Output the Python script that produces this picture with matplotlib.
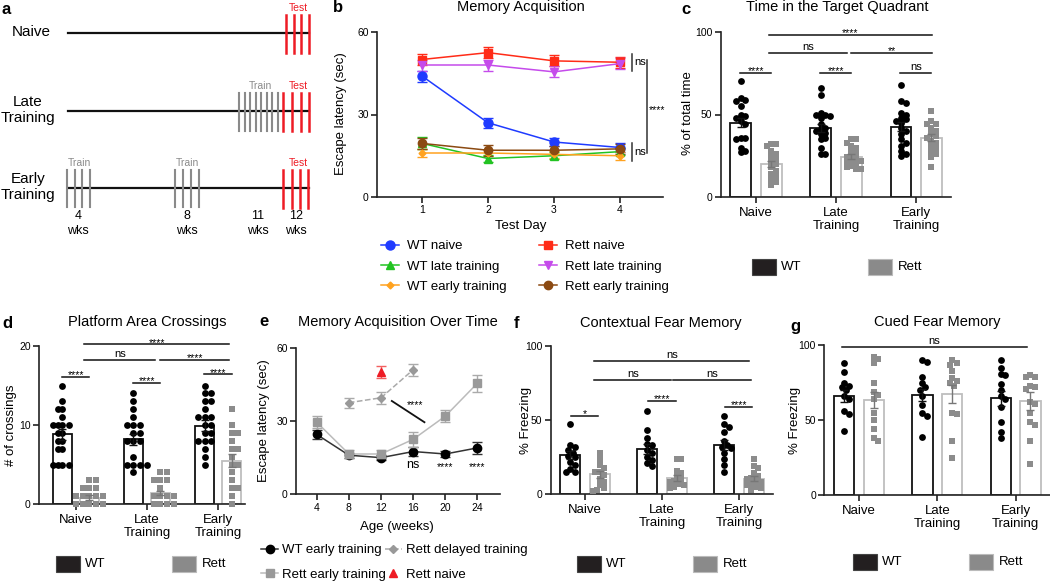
import numpy as np
import matplotlib
matplotlib.use('Agg')
import matplotlib.pyplot as plt
from matplotlib.patches import Rectangle
from matplotlib.lines import Line2D

W, H = 1050, 582
plt.rcParams['font.family'] = ['Liberation Sans', 'DejaVu Sans']

# ---------------- data ----------------
groups = ['Naive', 'Late\nTraining', 'Early\nTraining']

# b: memory acquisition (escape latency, sec) per test day
b_days = [1, 2, 3, 4]
b_names = ['WT naive', 'WT late training', 'WT early training',
           'Rett naive', 'Rett late training', 'Rett early training']
b_means = [[44, 27, 20, 18],
           [19.5, 14, 15, 16.5],
           [16, 16, 15.5, 15],
           [50, 52.5, 49.5, 49],
           [48, 48, 45.5, 48.5],
           [19.5, 17, 17, 17.5]]
b_sems = [[2, 1.8, 1.5, 1.5],
          [2.2, 1.2, 1.2, 1.2],
          [1.5, 1.2, 1.2, 1.5],
          [2, 2, 2, 2],
          [2, 2, 2, 2],
          [2, 2, 1.5, 1.8]]

# c: time in target quadrant (% of total time)
c_wt = [[70, 60, 59, 58, 55, 50, 49, 48, 46, 44, 36, 36, 35, 30, 28, 27],
        [66, 62, 51, 50, 50, 49, 48, 44, 42, 41, 40, 39, 38, 36, 35, 30, 26, 26],
        [68, 58, 57, 51, 50, 48, 47, 46, 45, 42, 40, 38, 35, 33, 31, 28, 26, 25]]
c_rett = [[32, 32, 31, 28, 26, 24, 23, 21, 20, 18, 16, 14, 13, 11, 9, 7],
          [35, 35, 33, 31, 30, 28, 26, 25, 24, 23, 22, 22, 21, 20, 19, 18, 17, 17],
          [52, 46, 44, 44, 42, 40, 38, 37, 36, 34, 33, 31, 29, 28, 26, 24, 18]]
c_wt_mean, c_rett_mean = [45, 42, 42.5], [20, 24.5, 36]
c_wt_sem, c_rett_sem = [2.8, 2.5, 2.8], [2, 1.5, 2.2]
c_sig = [(0.16, 2.2, 98.4, '****'), (0.16, 1.14, 87.5, 'ns'), (1.19, 2.2, 87.5, '**'),
         (-0.2, 0.19, 75, '****'), (0.8, 1.19, 75, '****'), (1.8, 2.19, 75, 'ns')]

# d: platform area crossings
d_wt = [[15, 13, 12, 12, 11, 10, 10, 10, 10, 9, 9, 8, 8, 7, 7, 5, 5, 5, 5],
        [14, 13, 12, 11, 10, 10, 10, 9, 9, 8, 8, 8, 6, 5, 5, 5, 5, 4],
        [15, 14, 14, 13, 13, 12, 11, 11, 11, 10, 10, 9, 9, 8, 8, 8, 7, 6, 5]]
d_rett = [[3, 3, 2, 2, 2, 1, 1, 1, 1, 1, 0, 0, 0, 0, 0],
          [4, 4, 3, 3, 3, 2, 1, 1, 1, 1, 0, 0, 0, 0],
          [12, 10, 9, 9, 8, 7, 7, 6, 5, 5, 4, 3, 2, 2, 1, 0]]
d_wt_mean, d_rett_mean = [8.8, 8.2, 9.9], [0.8, 1.4, 5.5]
d_wt_sem, d_rett_sem = [0.7, 0.7, 0.7], [0.3, 0.3, 0.8]
d_sig = [(0.12, 2.16, 20.2, '****'), (0.12, 1.12, 18.2, 'ns'), (1.18, 2.16, 18.2, '****'),
         (-0.2, 0.19, 16.1, '****'), (0.8, 1.19, 15.3, '****'), (1.8, 2.19, 16.4, '****')]

# e: memory acquisition over time
e_weeks = [4, 8, 12, 16, 20, 24]
e_wt = [24.5, 16, 15, 17.5, 16.5, 19]
e_wt_err = [2, 1, 1, 2, 1.2, 2.5]
e_rett = [29.5, 16.5, 16.5, 22.5, 32, 45.5]
e_rett_err = [2.5, 1.5, 1.5, 3, 2.5, 3.5]
e_delay_weeks = [8, 12, 16]
e_delay = [37.5, 39.5, 51]
e_delay_err = [2, 2.5, 2.5]
e_naive_weeks = [12]
e_naive = [50]
e_naive_err = [2.5]
e_sig_weeks = [16, 20, 24]
e_sig_labels = ['ns', '****', '****']

# f: contextual fear memory (% freezing)
f_wt = [[47, 33, 32, 30, 28, 26, 25, 22, 20, 17, 15, 15],
        [56, 43, 38, 34, 33, 30, 28, 25, 23, 21, 19],
        [53, 47, 45, 42, 36, 33, 32, 31, 28, 24, 20, 15]]
f_rett = [[28, 24, 20, 18, 15, 15, 13, 10, 8, 6, 4, 3, 2],
          [24, 24, 16, 14, 12, 10, 9, 8, 7, 6, 5, 4],
          [24, 19, 18, 14, 12, 11, 10, 9, 8, 7, 6, 5, 4, 3]]
f_wt_mean, f_rett_mean = [26.5, 30.5, 33], [13.5, 11, 10.5]
f_wt_sem, f_rett_sem = [2.8, 3.2, 3.5], [2.5, 2, 1.8]
f_sig = [(0.12, 2.13, 89.7, 'ns'), (0.12, 1.12, 77, 'ns'), (1.14, 2.15, 77, 'ns'),
         (-0.18, 0.17, 52.9, '*'), (0.82, 1.18, 62.8, '****'), (1.82, 2.17, 59, '****')]

# g: cued fear memory (% freezing)
g_wt = [[88, 82, 75, 73, 72, 70, 66, 64, 56, 54, 43],
        [90, 89, 79, 75, 72, 70, 66, 60, 55, 53, 39],
        [90, 85, 81, 80, 74, 70, 66, 64, 59, 49, 42, 38]]
g_rett = [[92, 91, 88, 75, 69, 67, 64, 55, 50, 44, 38, 36],
          [90, 88, 87, 83, 78, 76, 75, 73, 55, 54, 36, 25],
          [80, 79, 79, 73, 72, 71, 62, 61, 55, 49, 47, 36, 21]]
g_wt_mean, g_rett_mean = [66, 67, 64.5], [63.5, 67.5, 62.5]
g_wt_sem, g_rett_sem = [4, 4, 5], [5.5, 6, 6]
g_sig = [(-0.22, 2.15, 98.9, 'ns')]

# ---------------- styles ----------------
RED = '#EE1C25'
TRAIN_GRAY = '#8A8A8A'
RETT_PT = '#8C8C8C'
RETT_EDGE = '#BEBEBE'
AXC = '#222222'

fig = plt.figure(figsize=(W / 100, H / 100), dpi=100)
canvas = fig.add_axes([0, 0, 1, 1])
canvas.set_xlim(0, W)
canvas.set_ylim(H, 0)
canvas.axis('off')


def px_axes(x0, y0, x1, y1):
    ax = fig.add_axes([x0 / W, 1 - y1 / H, (x1 - x0) / W, (y1 - y0) / H])
    ax.set_facecolor('none')
    for s in ['top', 'right']:
        ax.spines[s].set_visible(False)
    for s in ['left', 'bottom']:
        ax.spines[s].set_linewidth(1.2)
        ax.spines[s].set_color(AXC)
    ax.tick_params(width=1.2, length=4, color=AXC, labelsize=7.5, pad=2)
    return ax


def ctext(x, y, s, **kw):
    kw.setdefault('ha', 'center')
    kw.setdefault('va', 'center')
    canvas.text(x, y, s, **kw)


def swarm(ax, xc, vals, d=4.6):
    # spread points sideways so they do not sit on top of each other
    pts = ax.transData.transform(np.column_stack([np.full(len(vals), xc), vals]))
    placed = []
    for px, py in pts:
        for k in range(60):
            off = ((k + 1) // 2) * (1 if k % 2 else -1) * d * 0.5
            cand = px + off
            if all((cand - qx) ** 2 + (py - qy) ** 2 >= d * d for qx, qy in placed):
                break
        placed.append((cand, py))
    return ax.transData.inverted().transform(np.array(placed))[:, 0]


def bar_panel(ax, wt, rett, wt_mean, rett_mean, wt_sem, rett_sem, ymax, xlim, sig):
    ax.set_xlim(*xlim)
    ax.set_ylim(0, ymax)
    ax.set_yticks([0, ymax / 2, ymax])
    ax.set_yticklabels([f'{v:g}' for v in [0, ymax / 2, ymax]])
    ax.set_xticks(range(len(groups)))
    ax.set_xticklabels(groups, fontsize=9.5, linespacing=1.15)
    ax.tick_params(axis='x', pad=3)
    off, bw = 0.19, 0.26
    xs = np.arange(len(groups))
    ax.bar(xs - off, wt_mean, bw, facecolor='white', edgecolor='#111', lw=1.3, zorder=1)
    ax.bar(xs + off, rett_mean, bw, facecolor='white', edgecolor=RETT_EDGE, lw=1.3, zorder=1)
    for i in range(len(groups)):
        xw = swarm(ax, i - off, wt[i])
        ax.scatter(xw, wt[i], s=24, color='black', marker='o', lw=0, zorder=3, clip_on=False)
        xr = swarm(ax, i + off, rett[i])
        ax.scatter(xr, rett[i], s=24, color=RETT_PT, marker='s', lw=0, zorder=3, clip_on=False)
    ax.errorbar(xs - off, wt_mean, yerr=wt_sem, fmt='none', ecolor='#111', elinewidth=1,
                capsize=3, capthick=1, zorder=4)
    ax.errorbar(xs + off, rett_mean, yerr=rett_sem, fmt='none', ecolor='#777', elinewidth=1,
                capsize=3, capthick=1, zorder=4)
    for x1, x2, y, lab in sig:
        ax.plot([x1, x2], [y, y], color='#111', lw=1.1, clip_on=False)
        if lab == 'ns':
            ax.text((x1 + x2) / 2, y + ymax * 0.005, lab, ha='center', va='bottom', fontsize=8)
        else:
            ax.text((x1 + x2) / 2, y - ymax * 0.02, lab, ha='center', va='bottom', fontsize=7.5)


def box_legend(x, ytop):
    canvas.add_patch(Rectangle((x, ytop), 24, 16, facecolor='#231F20', edgecolor='#444', lw=0.8))
    ctext(x + 29, ytop + 8, 'WT', ha='left', fontsize=9.5)
    canvas.add_patch(Rectangle((x + 116, ytop), 24, 16, facecolor='#8A8A8A', edgecolor='#BBBBBB', lw=0.8))
    ctext(x + 146, ytop + 8, 'Rett', ha='left', fontsize=9.5)


# ---------------- panel a (schematic) ----------------
a_rows = ['Naive', 'Late\nTraining', 'Early\nTraining']
row_y = [33, 111, 188]
row_lx = [31, 28, 28]
for lbl, y, lx in zip(a_rows, row_y, row_lx):
    ctext(lx, y - 1, lbl, fontsize=11, linespacing=1.1)
    canvas.plot([68, 309], [y, y], color='#111', lw=1.6)

test_x = [[286, 294, 301, 309], [283, 292, 301, 309], [283, 292, 300, 308]]
for y, tx in zip(row_y, test_x):
    for x in tx:
        canvas.plot([x, x], [y - 18.5, y + 19.5], color=RED, lw=1.8)
    ctext(298, y - 25, 'Test', color=RED, fontsize=7.5)
for x in np.linspace(239, 278, 8):
    canvas.plot([x, x], [111 - 18, 111 + 20], color=TRAIN_GRAY, lw=1.5)
ctext(260, 86, 'Train', color=TRAIN_GRAY, fontsize=7.5)
for grp, tx in [([67, 75, 82, 90], 79), ([175, 183, 191, 199], 187)]:
    for x in grp:
        canvas.plot([x, x], [188 - 18, 188 + 19], color=TRAIN_GRAY, lw=1.5)
    ctext(tx, 163, 'Train', color=TRAIN_GRAY, fontsize=7.5)
for x, wk in [(78, '4'), (187, '8'), (258, '11'), (296, '12')]:
    ctext(x, 216, wk, fontsize=9)
    ctext(x, 231, 'wks', fontsize=9)

# ---------------- panel b ----------------
axb = px_axes(377, 32, 663, 197)
axb.set_xlim(0.32, 4.65)
axb.set_ylim(0, 60)
axb.set_yticks([0, 30, 60])
axb.set_xticks(b_days)
b_styles = [dict(color='#1F3BFF', marker='o', ms=6.5),
            dict(color='#22C322', marker='^', ms=5.5),
            dict(color='#FFA21F', marker='D', ms=3.5),
            dict(color='#FF2B17', marker='s', ms=6),
            dict(color='#C54BEB', marker='v', ms=6),
            dict(color='#8B4A12', marker='o', ms=6)]
handles = []
for name, m, e, st in zip(b_names, b_means, b_sems, b_styles):
    axb.errorbar(b_days, m, yerr=e, color=st['color'], marker=st['marker'], ms=st['ms'],
                 lw=1.1, elinewidth=1, capsize=3.5, capthick=1, ecolor=st['color'], clip_on=False)
    handles.append(Line2D([], [], color=st['color'], marker=st['marker'], ms=st['ms'], lw=1.1))
for x, y1, y2 in [(4.18, 52, 45.8), (4.41, 49.8, 16), (4.18, 19.6, 13.1)]:
    axb.plot([x, x], [y1, y2], color='#333', lw=1.1, clip_on=False)
axb.text(4.22, 49, 'ns', fontsize=8, va='center', ha='left')
axb.text(4.22, 16.5, 'ns', fontsize=8, va='center', ha='left')
axb.text(4.56, 31.5, '****', fontsize=7.5, va='center', ha='center')
ctext(521, 7, 'Memory Acquisition', fontsize=10.5)
ctext(341, 114, 'Escape latency (sec)', fontsize=9.5, rotation=90)
ctext(521, 226, 'Test Day', fontsize=9.5)
axb.legend(handles, b_names, ncol=2, loc='upper left', bbox_to_anchor=(381 / W, 1 - 240 / H),
           bbox_transform=fig.transFigure, frameon=False, fontsize=9.5, handlelength=1.4,
           handletextpad=0.6, columnspacing=2.4, labelspacing=0.62, borderpad=0, borderaxespad=0)

# ---------------- panel c ----------------
axc = px_axes(720.7, 32, 950.7, 197)
bar_panel(axc, c_wt, c_rett, c_wt_mean, c_rett_mean, c_wt_sem, c_rett_sem, 100, (-0.44, 2.43), c_sig)
ctext(837, 7, 'Time in the Target Quadrant', fontsize=10.5)
ctext(688, 113, '% of total time', fontsize=9.5, rotation=90)
box_legend(752, 259)

# ---------------- panel d ----------------
axd = px_axes(39, 346, 245, 504)
bar_panel(axd, d_wt, d_rett, d_wt_mean, d_rett_mean, d_wt_sem, d_rett_sem, 20, (-0.52, 2.38), d_sig)
ctext(147, 322, 'Platform Area Crossings', fontsize=10.5)
ctext(11, 425, '# of crossings', fontsize=9.5, rotation=90)
box_legend(56, 556)

# ---------------- panel e ----------------
axe = px_axes(296, 347.7, 500, 494.3)
axe.set_xlim(1.42, 26.8)
axe.set_ylim(0, 60)
axe.set_yticks([0, 30, 60])
axe.set_xticks(e_weeks)
axe.errorbar(e_weeks, e_wt, yerr=e_wt_err, color='#333', marker='o', ms=6, mfc='black', mec='black',
             lw=1.1, elinewidth=1, capsize=3.5, capthick=1, ecolor='#333', zorder=3)
axe.errorbar(e_weeks, e_rett, yerr=e_rett_err, color='#BBBBBB', marker='s', ms=6, mfc='#999999',
             mec='#999999', lw=1.1, elinewidth=1, capsize=3.5, capthick=1, ecolor='#AAAAAA', zorder=4)
axe.errorbar(e_delay_weeks, e_delay, yerr=e_delay_err, color='#AAAAAA', ls='--', marker='D', ms=4,
             mfc='#999999', mec='#999999', lw=1.1, elinewidth=1, capsize=3.5, capthick=1,
             ecolor='#AAAAAA', zorder=3)
axe.errorbar(e_naive_weeks, e_naive, yerr=e_naive_err, color=RED, marker='^', ms=6, ls='none',
             elinewidth=1, capsize=3.5, capthick=1, ecolor='#F26060', zorder=3)
axe.plot([13.34, 17.4], [38.2, 29.5], color='#111', lw=1.3)
axe.text(16.25, 36.4, '****', fontsize=7.5, ha='center', va='center')
for wk, lab in zip(e_sig_weeks, e_sig_labels):
    axe.text(wk, 12 if lab == 'ns' else 11, lab, fontsize=9 if lab == 'ns' else 7.5,
             ha='center', va='center')
ctext(398, 322, 'Memory Acquisition Over Time', fontsize=10.5)
ctext(264, 421, 'Escape latency (sec)', fontsize=9.5, rotation=90)
ctext(397, 527, 'Age (weeks)', fontsize=9.5)
e_handles = [Line2D([], [], color='#333', marker='o', ms=6, mfc='black', mec='black', lw=1.1),
             Line2D([], [], color='#BBBBBB', marker='s', ms=6, mfc='#999999', mec='#999999', lw=1.1),
             Line2D([], [], color='#AAAAAA', ls='--', marker='D', ms=4, mfc='#999999', mec='#999999', lw=1.1),
             Line2D([], [], color=RED, marker='^', ms=6, ls='none')]
e_labels = ['WT early training', 'Rett early training', 'Rett delayed training', 'Rett naive']
axe.legend(e_handles, e_labels, ncol=2, loc='upper left', bbox_to_anchor=(261 / W, 1 - 544 / H),
           bbox_transform=fig.transFigure, frameon=False, fontsize=9.5, handlelength=1.3,
           handletextpad=0.3, columnspacing=-0.1, labelspacing=0.95, borderpad=0, borderaxespad=0)

# ---------------- panel f ----------------
axf = px_axes(550.7, 345.7, 773, 494.3)
bar_panel(axf, f_wt, f_rett, f_wt_mean, f_rett_mean, f_wt_sem, f_rett_sem, 100, (-0.445, 2.44), f_sig)
ctext(661, 323, 'Contextual Fear Memory', fontsize=10.5)
ctext(526, 420, '% Freezing', fontsize=9.5, rotation=90)
box_legend(577, 556)

# ---------------- panel g ----------------
axg = px_axes(824.3, 345, 1050, 495)
bar_panel(axg, g_wt, g_rett, g_wt_mean, g_rett_mean, g_wt_sem, g_rett_sem, 100, (-0.443, 2.44), g_sig)
ctext(937, 322, 'Cued Fear Memory', fontsize=10.5)
ctext(795, 420, '% Freezing', fontsize=9.5, rotation=90)
box_legend(853, 554)

# panel letters
for lt, x, y in [('a', 6, 9), ('b', 338, 8), ('c', 686, 9), ('d', 7, 323),
                 ('e', 264, 322), ('f', 516, 323), ('g', 795, 326)]:
    ctext(x, y, lt, fontsize=12, fontweight='bold')

fig.savefig('out.png', dpi=100)
